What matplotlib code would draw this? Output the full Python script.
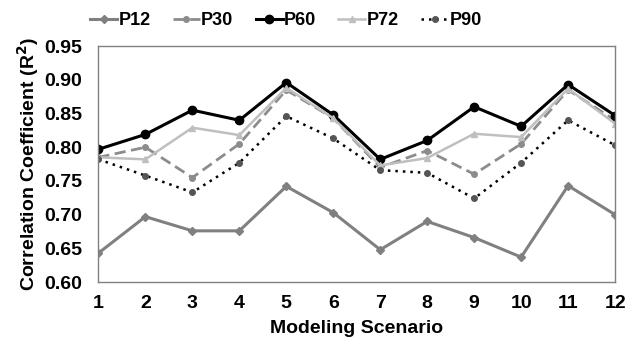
import matplotlib
matplotlib.use("Agg")
import matplotlib.pyplot as plt

plt.rcParams['font.family'] = ['Liberation Sans', 'DejaVu Sans']
plt.rcParams['font.weight'] = 'bold'

scenarios = list(range(1, 13))
p12 = [0.643, 0.697, 0.676, 0.676, 0.742, 0.703, 0.648, 0.690, 0.666, 0.637, 0.743, 0.700]
p30 = [0.785, 0.800, 0.755, 0.805, 0.885, 0.843, 0.770, 0.795, 0.760, 0.805, 0.885, 0.840]
p60 = [0.797, 0.819, 0.855, 0.840, 0.896, 0.848, 0.782, 0.810, 0.860, 0.831, 0.893, 0.847]
p72 = [0.785, 0.782, 0.829, 0.818, 0.888, 0.843, 0.773, 0.784, 0.820, 0.815, 0.887, 0.835]
p90 = [0.782, 0.758, 0.733, 0.777, 0.846, 0.813, 0.766, 0.762, 0.724, 0.777, 0.840, 0.803]

fig = plt.figure(figsize=(6.27, 3.44), dpi=100)
ax = fig.add_axes([0.157, 0.18, 0.824, 0.686])

ax.plot(scenarios, p12, color='#808080', lw=2.2, marker='D', ms=4, label='P12')
ax.plot(scenarios, p30, color='#8c8c8c', lw=2.0, ls=(0, (4, 2)), marker='o', ms=4, label='P30')
ax.plot(scenarios, p60, color='black', lw=2.2, marker='o', ms=6, label='P60')
ax.plot(scenarios, p72, color='#bfbfbf', lw=1.8, marker='^', ms=5, label='P72')
ax.plot(scenarios, p90, color='black', lw=1.8, ls=(0, (1, 2)), marker='o', ms=4,
        markerfacecolor='#555555', markeredgecolor='#555555', label='P90')

ax.set_xlim(1, 12)
ax.set_ylim(0.60, 0.95)
ax.set_xticks(scenarios)
ax.set_yticks([0.60, 0.65, 0.70, 0.75, 0.80, 0.85, 0.90, 0.95])
ax.set_yticklabels(['%.2f' % v for v in ax.get_yticks()])
ax.tick_params(axis='y', length=0, labelsize=14, pad=12)
ax.tick_params(axis='x', length=0, labelsize=14, pad=9)
for s in ax.spines.values():
    s.set_color('#808080')
    s.set_linewidth(1)

ax.set_xlabel('Modeling Scenario', fontsize=14, fontweight='bold', labelpad=6)
ax.set_ylabel('Correlation Coefficient (R$^2$)', fontsize=14, fontweight='bold', labelpad=2)

fig.legend(loc='center', bbox_to_anchor=(0.456, 0.94), ncol=5, frameon=False,
           fontsize=13, handlelength=1.5, handletextpad=0.08, columnspacing=1.22,
           borderaxespad=0)

fig.savefig('out.png', dpi=100)
